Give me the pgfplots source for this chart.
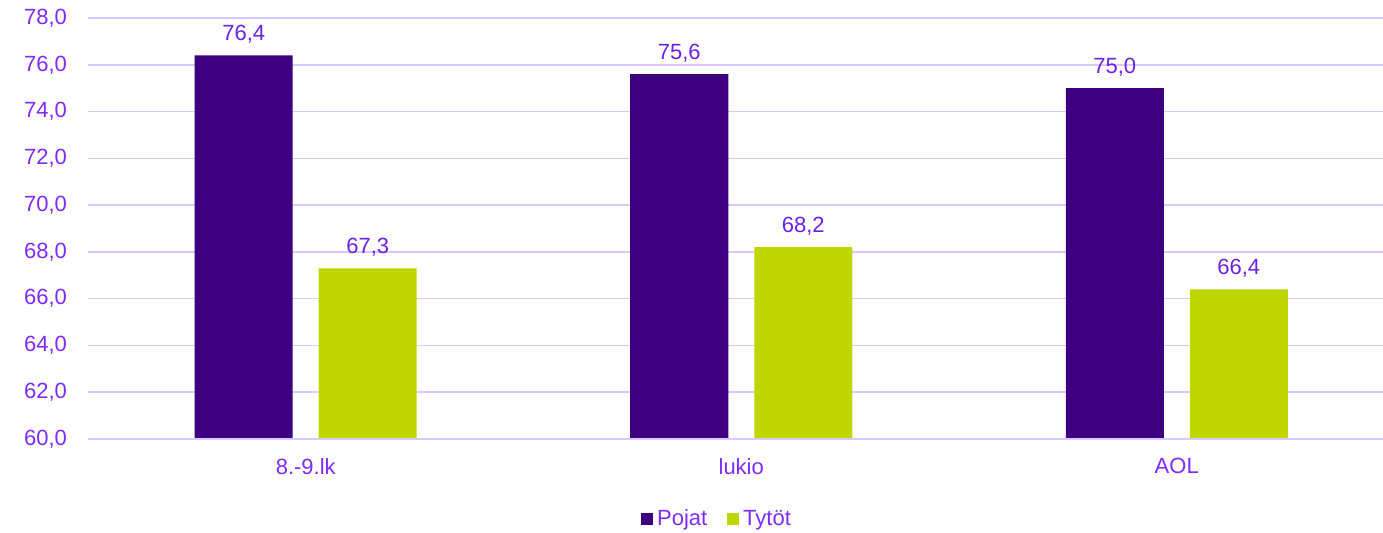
\documentclass[border=0pt]{standalone}
\usepackage{fontspec}
\setmainfont{Liberation Sans}
\usepackage{pgfplots}
\pgfplotsset{compat=1.18}
\definecolor{pojat}{HTML}{3C0080}
\definecolor{tytot}{HTML}{BED700}
\definecolor{gridc}{HTML}{DCC8FF}
\definecolor{txt}{HTML}{7F2BFF}
\definecolor{lbl}{HTML}{6C22E6}
\begin{document}
\begin{tikzpicture}
\begin{axis}[
  scale only axis,
  width=647.5pt, height=210.5pt,
  xmin=-0.5, xmax=2.4736,
  ymin=60, ymax=78,
  ytick={60,62,...,78},
  xtick={0,1,2},
  xticklabels={8.-9.lk,lukio,AOL},
  ybar=13pt, bar width=49pt,
  axis line style={draw=none},
  ymajorgrids, grid style={gridc, line width=0.8pt},
  major tick length=0pt,
  tick label style={font=\fontsize{11}{13}\selectfont, text=txt},
  yticklabel style={xshift=-7pt},
  xticklabel style={yshift=-6pt},
  /pgf/number format/use comma,
  /pgf/number format/fixed,
  /pgf/number format/fixed zerofill,
  /pgf/number format/precision=1,
  /pgf/number format/assume math mode=true,
  nodes near coords,
  nodes near coords style={font=\fontsize{11}{13}\selectfont, text=lbl, yshift=2.5pt},
  legend style={at={(0.4865,-0.192)}, anchor=center, draw=none, legend columns=2, font=\fontsize{11}{13}\selectfont, text=txt, nodes={text height=8pt, text depth=2.5pt}, /tikz/every even column/.append style={column sep=8pt}},
  legend image code/.code={\fill[#1] (0pt,-2.6pt) rectangle (6pt,3.4pt);},
  clip=false,
]
\addplot[fill=pojat, draw=none] coordinates {(0,76.4) (1,75.6) (2,75.0)};
\addplot[fill=tytot, draw=none] coordinates {(0,67.3) (1,68.2) (2,66.4)};
\legend{Pojat,Tytöt}
\draw[gridc, line width=0.8pt] (axis cs:-0.5,60) -- (axis cs:2.4736,60);
\end{axis}
\pgfresetboundingbox
\path (-44pt,-47pt) rectangle (647.5pt,219.5pt);
\end{tikzpicture}
\end{document}
